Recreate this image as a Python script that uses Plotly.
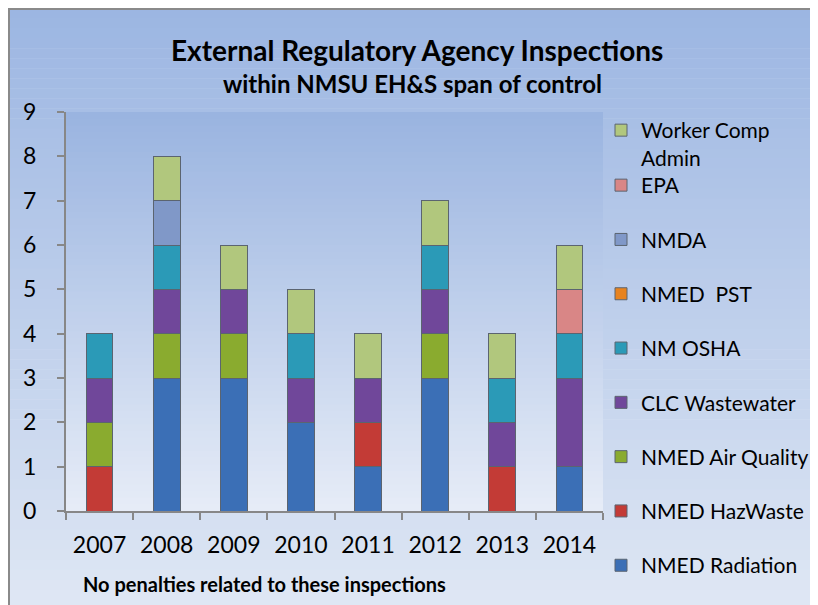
import plotly.graph_objects as go

years = ["2007", "2008", "2009", "2010", "2011", "2012", "2013", "2014"]

nmed_radiation = [0, 3, 3, 2, 1, 3, 0, 1]
nmed_hazwaste = [1, 0, 0, 0, 1, 0, 1, 0]
nmed_air_quality = [1, 1, 1, 0, 0, 1, 0, 0]
clc_wastewater = [1, 1, 1, 1, 1, 1, 1, 2]
nm_osha = [1, 1, 0, 1, 0, 1, 1, 1]
nmed_pst = [0, 0, 0, 0, 0, 0, 0, 0]
nmda = [0, 1, 0, 0, 0, 0, 0, 0]
epa = [0, 0, 0, 0, 0, 0, 0, 1]
worker_comp = [0, 1, 1, 1, 1, 1, 1, 1]

series = [
    ("NMED Radiation", nmed_radiation, "#3b6fb6"),
    ("NMED HazWaste", nmed_hazwaste, "#c33b36"),
    ("NMED Air Quality", nmed_air_quality, "#8aab2f"),
    ("CLC Wastewater", clc_wastewater, "#70479a"),
    ("NM OSHA", nm_osha, "#2b9ab7"),
    ("NMED  PST", nmed_pst, "#e8831f"),
    ("NMDA", nmda, "#8098c8"),
    ("EPA", epa, "#d98686"),
    ("Worker Comp<br>Admin", worker_comp, "#b1c77d"),
]

# page has an 8px body margin, so figure pixel = screen pixel - 8
OFF = 8
W, H = 818 - OFF, 605 - OFF
L, R, T, B = 66 - OFF, 603 - OFF, 112 - OFF, 511 - OFF

def px_x(sx):
    return (sx - OFF - L) / (R - L)

def px_y(sy):
    return (B - (sy - OFF)) / (B - T)

def mix(c1, c2, t):
    a = [int(c1[i:i + 2], 16) for i in (1, 3, 5)]
    b = [int(c2[i:i + 2], 16) for i in (1, 3, 5)]
    return "rgb(%d,%d,%d)" % tuple(round(a[k] + (b[k] - a[k]) * t) for k in range(3))

fig = go.Figure()
n_series = len(series)
for i, (name, vals, col) in enumerate(series):
    # the two-line entry gets its own legend so the spacing below it stays tight
    leg = "legend2" if i == n_series - 1 else "legend"
    fig.add_trace(go.Bar(x=years, y=vals, name=name, legendgroup=name,
                         legendrank=n_series - i, legend=leg,
                         marker=dict(color=col, line=dict(color="#5b6470", width=1))))

shapes = []
# outer chart gradient
n = 60
y0, y1 = 8, 610
for i in range(n):
    a = y0 + (y1 - y0) * i / n
    b = y0 + (y1 - y0) * (i + 1) / n
    shapes.append(dict(type="rect", xref="paper", yref="paper", layer="below",
                       x0=px_x(0), x1=px_x(830), y0=px_y(a), y1=px_y(b + 0.5),
                       fillcolor=mix("#9cb6e2", "#dfe7f4", i / (n - 1)), line_width=0))
# plot area gradient
for i in range(n):
    shapes.append(dict(type="rect", xref="paper", yref="paper", layer="below",
                       x0=0, x1=1, y0=1 - i / n, y1=1 - (i + 1) / n - 0.002,
                       fillcolor=mix("#9ab4e0", "#e6ecf7", i / (n - 1)), line_width=0))
# frame
shapes.append(dict(type="line", xref="paper", yref="paper", x0=px_x(8), x1=px_x(830),
                   y0=px_y(9), y1=px_y(9), line=dict(color="#8a8a8a", width=2)))
shapes.append(dict(type="line", xref="paper", yref="paper", x0=px_x(9), x1=px_x(9),
                   y0=px_y(8), y1=px_y(620), line=dict(color="#8a8a8a", width=2)))

font = "Lato, 'Open Sans', sans-serif"
legend_common = dict(x=px_x(601), xanchor="left", yanchor="top", traceorder="grouped",
                     tracegroupgap=24, valign="top", maxheight=590,
                     font=dict(size=21, family=font), bgcolor="rgba(0,0,0,0)")

fig.update_layout(
    width=W, height=H,
    margin=dict(l=L, r=W - R, t=T, b=H - B, autoexpand=False),
    barmode="stack", bargap=0.6,
    paper_bgcolor="white", plot_bgcolor="rgba(0,0,0,0)",
    shapes=shapes,
    font=dict(family=font, color="black"),
    showlegend=True,
    legend=dict(y=px_y(165), **legend_common),
    legend2=dict(y=px_y(110), **legend_common),
    annotations=[
        dict(text="<b>External Regulatory Agency Inspections</b>", xref="paper", yref="paper",
             x=px_x(417), y=px_y(50), xanchor="center", yanchor="middle", showarrow=False,
             font=dict(size=28, family=font)),
        dict(text="<b>within NMSU EH&S span of control</b>", xref="paper", yref="paper",
             x=px_x(412), y=px_y(83), xanchor="center", yanchor="middle", showarrow=False,
             font=dict(size=24, family=font)),
        dict(text="<b>No penalties related to these inspections</b>", xref="paper", yref="paper",
             x=px_x(81), xanchor="left", y=px_y(584), yanchor="middle", showarrow=False,
             font=dict(size=20, family=font)),
    ],
)
fig.update_xaxes(showline=True, linecolor="#878787", linewidth=2, ticks="outside", ticklen=7,
                 tickcolor="#878787", tickwidth=2, tickson="boundaries", showgrid=False,
                 tickfont=dict(size=23), ticklabelstandoff=12)
fig.update_yaxes(range=[0, 9], dtick=1, showline=True, linecolor="#878787", linewidth=2,
                 ticks="outside", ticklen=7, tickcolor="#878787", tickwidth=2, showgrid=False,
                 zeroline=False, tickfont=dict(size=23), ticklabelstandoff=16)

fig.write_html("out.html")
